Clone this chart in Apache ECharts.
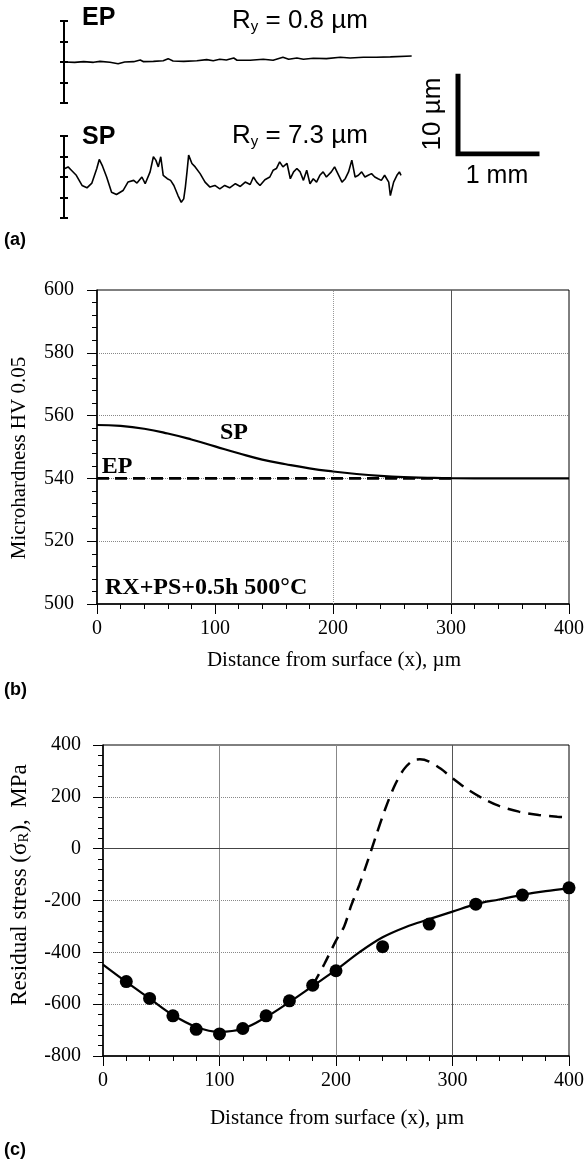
<!DOCTYPE html>
<html><head><meta charset="utf-8">
<script src="https://cdn.jsdelivr.net/npm/echarts@6/dist/echarts.min.js"></script>
<style>html,body{margin:0;padding:0;background:#fff}#c{width:587px;height:1163px}</style>
</head><body><div id="c"></div>
<script>
// ---------- Panel (a): surface profiles (x in mm, y in µm) ----------
const epX = [0.01,0.13,0.24,0.36,0.44,0.56,0.66,0.74,0.85,0.93,0.97,1.09,1.21,1.27,1.33,1.46,1.62,1.74,1.82,1.90,1.98,2.07,2.11,2.27,2.43,2.55,2.67,2.74,2.84,2.92,3.04,3.20,3.37,3.49,3.65,3.81,3.98,4.24];
const epY = [0,-0.04,0.04,-0.04,0.08,-0.04,-0.21,0,0.04,0.25,0.04,0.08,0.16,0.41,0.12,0.08,0.16,0.29,0.16,0.33,0.25,0.49,0.21,0.21,0.33,0.21,0.58,0.33,0.49,0.33,0.45,0.41,0.58,0.49,0.58,0.58,0.62,0.74];
const spX = [0.01,0.05,0.09,0.15,0.22,0.28,0.34,0.40,0.43,0.47,0.52,0.58,0.64,0.72,0.78,0.85,0.89,0.95,0.99,1.05,1.09,1.12,1.15,1.18,1.21,1.26,1.30,1.34,1.39,1.43,1.46,1.48,1.50,1.52,1.56,1.60,1.66,1.72,1.78,1.84,1.90,1.96,2.02,2.09,2.15,2.21,2.27,2.31,2.35,2.39,2.45,2.51,2.55,2.59,2.63,2.67,2.72,2.76,2.80,2.84,2.88,2.92,2.96,3.00,3.04,3.08,3.12,3.16,3.20,3.26,3.30,3.35,3.39,3.43,3.47,3.51,3.55,3.59,3.63,3.67,3.71,3.75,3.79,3.83,3.87,3.91,3.96,3.98,4.02,4.06,4.09,4.11];
const spY = [1.03,1.23,0.82,0.21,-1.03,-1.32,-0.74,1.03,2.14,1.32,0,-1.85,-2.14,-1.65,-0.62,-0.41,-0.74,0,-0.82,0.62,2.47,2.06,1.23,2.47,0.21,-0.21,-0.41,-1.03,-2.26,-3.09,-2.67,-1.23,0.62,2.67,1.65,1.23,0.41,-0.62,-1.23,-1.03,-1.44,-1.03,-1.32,-0.82,-1.15,-0.62,-0.91,0,-0.62,-1.03,-0.33,0,0.82,1.03,1.85,1.23,1.65,-0.21,0.62,1.03,0.62,-0.41,0.82,-0.82,-0.21,-0.62,0.21,0.62,0,0.62,1.23,0.21,-0.62,-0.21,0.62,2.06,0,0.21,0.62,0,0.21,0.41,0,-0.21,-0.41,0.21,-0.62,-2.26,-0.62,0.21,0.62,0.21];
const scaleBarX = [0, 0, 1];    // 1 mm
const scaleBarY = [10, 0, 0];   // 10 µm

// ---------- Panel (b): microhardness ----------
const hardX  = [0,20,40,60,80,100,120,140,160,180,200,220,240,260,280,300,320,340,360,380,400];
const hardSP = [557.0,556.7,555.8,554.3,552.4,550.2,548.0,546.0,544.5,543.2,542.2,541.4,540.8,540.4,540.2,540.05,540,540,540,540,540];
const hardEPX = [0, 300];
const hardEPY = [540, 540];

// ---------- Panel (c): residual stress ----------
const stressPtX = [20,40,60,80,100,120,140,160,180,200,240,280,320,360,400];
const stressPtY = [-513,-578,-645,-697,-715,-694,-645,-587,-527,-471,-378,-291,-214,-179,-151];
const fitX = [0,20,40,60,80,100,120,140,160,180,200,220,240,260,280,300,320,340,360,380,400];
const fitY = [-447,-514,-578,-642,-688,-707,-695,-650,-592,-530,-468,-400,-342,-302,-272,-243,-214,-196,-178,-164,-153];
const dashX = [180,190,200,207,213,220,227,234,242,250,258,266,272,280,290,300,312,326,340,357,374,390,400];
const dashY = [-528,-445,-355,-300,-220,-140,-50,45,150,240,305,340,345,336,308,272,232,194,165,143,130,123,121];

const zip = (a, b) => a.map((v, i) => [v, b[i]]);
const SERIF = '"Liberation Serif","Times New Roman",serif';
const SANS = '"Liberation Sans",Arial,sans-serif';

const chart = echarts.init(document.getElementById('c'), null, {renderer: 'canvas'});

function barAxis(grid, inside, showLine) {
  return {
    gridIndex: grid, type: 'value', min: -5, max: 5, interval: 2.5, position: 'left',
    axisLine: {show: showLine, lineStyle: {color: '#000', width: 2}},
    axisTick: {show: true, inside: inside, length: 4, lineStyle: {color: '#000', width: 2}},
    axisLabel: {show: false}, splitLine: {show: false}
  };
}
const tickLabel = {color: '#000', fontFamily: SERIF, fontSize: 20};

const option = {
  animation: false,
  backgroundColor: '#fff',
  grid: [
    {left: 64, top: 21, width: 348.5, height: 82},
    {left: 64, top: 136, width: 348.5, height: 82},
    {left: 458, top: 76, width: 79, height: 78},
    {left: 97, top: 290, width: 473, height: 314, show: true, borderColor: '#000', borderWidth: 1},
    {left: 103, top: 745, width: 467, height: 311, show: true, borderColor: '#000', borderWidth: 1}
  ],
  xAxis: [
    {gridIndex: 0, type: 'value', min: 0, max: 4.25, show: false},
    {gridIndex: 1, type: 'value', min: 0, max: 4.25, show: false},
    {gridIndex: 2, type: 'value', min: 0, max: 1, show: false},
    {gridIndex: 3, type: 'value', min: 0, max: 400, interval: 100,
      axisLine: {lineStyle: {color: '#000', width: 1.5}},
      axisTick: {length: 10, lineStyle: {color: '#000'}},
      minorTick: {show: true, splitNumber: 5, length: 5, lineStyle: {color: '#000'}},
      axisLabel: Object.assign({margin: 15}, tickLabel),
      splitLine: {show: false}},
    {gridIndex: 4, type: 'value', min: 0, max: 400, interval: 100,
      axisLine: {onZero: false, lineStyle: {color: '#000', width: 1.5}},
      axisTick: {length: 10, lineStyle: {color: '#000'}},
      minorTick: {show: true, splitNumber: 5, length: 5, lineStyle: {color: '#000'}},
      axisLabel: Object.assign({margin: 15}, tickLabel),
      splitLine: {show: false}}
  ],
  yAxis: [
    barAxis(0, false, true), barAxis(0, true, false),
    barAxis(1, false, true), barAxis(1, true, false),
    {gridIndex: 2, type: 'value', min: 0, max: 10, show: false},
    {gridIndex: 3, type: 'value', min: 500, max: 600, interval: 20,
      axisLine: {show: true, lineStyle: {color: '#000', width: 1.5}},
      axisTick: {show: true, length: 10, lineStyle: {color: '#000'}},
      minorTick: {show: true, splitNumber: 5, length: 5, lineStyle: {color: '#000'}},
      axisLabel: Object.assign({margin: 23}, tickLabel),
      splitLine: {show: true, showMinLine: false, showMaxLine: false, lineStyle: {color: '#888', type: 'dotted', width: 1}}},
    {gridIndex: 4, type: 'value', min: -800, max: 400, interval: 200,
      axisLine: {show: true, lineStyle: {color: '#000', width: 1.5}},
      axisTick: {show: true, length: 10, lineStyle: {color: '#000'}},
      minorTick: {show: true, splitNumber: 5, length: 5, lineStyle: {color: '#000'}},
      axisLabel: Object.assign({margin: 22}, tickLabel),
      splitLine: {show: true, showMinLine: false, showMaxLine: false, lineStyle: {color: '#888', type: 'dotted', width: 1}}}
  ],
  series: [
    {type: 'line', xAxisIndex: 0, yAxisIndex: 0, data: zip(epX, epY), symbol: 'none',
      lineStyle: {color: '#000', width: 1.6}},
    {type: 'line', xAxisIndex: 1, yAxisIndex: 2, data: zip(spX, spY), symbol: 'none',
      lineStyle: {color: '#000', width: 1.6}},
    {type: 'line', xAxisIndex: 2, yAxisIndex: 4, data: zip(scaleBarX, scaleBarY), symbol: 'none',
      lineStyle: {color: '#000', width: 5, join: 'miter', cap: 'square'}},
    // panel (b)
    {type: 'line', xAxisIndex: 3, yAxisIndex: 5, data: zip(hardX, hardSP), symbol: 'none', smooth: true, z: 3,
      lineStyle: {color: '#000', width: 2.2},
      markLine: {silent: true, symbol: ['none', 'none'], z: 1, label: {show: false},
        data: [
          {xAxis: 200, lineStyle: {color: '#999', type: 'dotted', width: 1}},
          {xAxis: 300, lineStyle: {color: '#555', type: 'solid', width: 1}}
        ]}},
    {type: 'line', xAxisIndex: 3, yAxisIndex: 5, data: zip(hardEPX, hardEPY), symbol: 'none', z: 3,
      lineStyle: {color: '#000', width: 2.8, type: [12, 6]}},
    // panel (c)
    {type: 'line', xAxisIndex: 4, yAxisIndex: 6, data: zip(fitX, fitY), symbol: 'none', smooth: 0.35, z: 3,
      lineStyle: {color: '#000', width: 2.2},
      markLine: {silent: true, symbol: ['none', 'none'], z: 1, label: {show: false},
        data: [
          {xAxis: 100, lineStyle: {color: '#888', type: 'solid', width: 1}},
          {xAxis: 200, lineStyle: {color: '#888', type: 'solid', width: 1}},
          {xAxis: 300, lineStyle: {color: '#555', type: 'solid', width: 1}},
          {yAxis: 0, lineStyle: {color: '#444', type: 'solid', width: 1.2}}
        ]}},
    {type: 'line', xAxisIndex: 4, yAxisIndex: 6, data: zip(dashX, dashY), symbol: 'none', smooth: 0.3, z: 3,
      lineStyle: {color: '#000', width: 2.5, type: [13, 8]}},
    {type: 'scatter', xAxisIndex: 4, yAxisIndex: 6, data: zip(stressPtX, stressPtY), symbol: 'circle', symbolSize: 13, z: 4,
      itemStyle: {color: '#000', opacity: 1}}
  ],
  graphic: [
    {type: 'text', x: 82, y: 18, style: {text: 'EP', font: 'bold 25px ' + SANS, fill: '#000', align: 'left', verticalAlign: 'middle'}},
    {type: 'text', x: 232, y: 21, style: {text: 'R{s|y} = 0.8 µm', font: '26px ' + SANS, fill: '#000', align: 'left', verticalAlign: 'middle',
      rich: {s: {fontSize: 15, fontFamily: SANS, verticalAlign: 'bottom', lineHeight: 15}}}},
    {type: 'text', x: 82, y: 137, style: {text: 'SP', font: 'bold 25px ' + SANS, fill: '#000', align: 'left', verticalAlign: 'middle'}},
    {type: 'text', x: 232, y: 136, style: {text: 'R{s|y} = 7.3 µm', font: '26px ' + SANS, fill: '#000', align: 'left', verticalAlign: 'middle',
      rich: {s: {fontSize: 15, fontFamily: SANS, verticalAlign: 'bottom', lineHeight: 15}}}},
    {type: 'text', x: 433, y: 114, rotation: Math.PI / 2, style: {text: '10 µm', font: '26px ' + SANS, fill: '#000', align: 'center', verticalAlign: 'middle'}},
    {type: 'text', x: 497, y: 176, style: {text: '1 mm', font: '25px ' + SANS, fill: '#000', align: 'center', verticalAlign: 'middle'}},
    {type: 'text', x: 4, y: 240, style: {text: '(a)', font: 'bold 18px ' + SANS, fill: '#000', align: 'left', verticalAlign: 'middle'}},
    // panel (b)
    {type: 'text', x: 234, y: 433, style: {text: 'SP', font: 'bold 24px ' + SERIF, fill: '#000', align: 'center', verticalAlign: 'middle'}},
    {type: 'text', x: 117, y: 467, style: {text: 'EP', font: 'bold 24px ' + SERIF, fill: '#000', align: 'center', verticalAlign: 'middle'}},
    {type: 'text', x: 105, y: 588, style: {text: 'RX+PS+0.5h 500°C', font: 'bold 24px ' + SERIF, fill: '#000', align: 'left', verticalAlign: 'middle'}},
    {type: 'text', x: 19, y: 458, rotation: Math.PI / 2, style: {text: 'Microhardness HV 0.05', font: '21px ' + SERIF, fill: '#000', align: 'center', verticalAlign: 'middle'}},
    {type: 'text', x: 334, y: 660, style: {text: 'Distance from surface (x), µm', font: '21px ' + SERIF, fill: '#000', align: 'center', verticalAlign: 'middle'}},
    {type: 'text', x: 4, y: 690, style: {text: '(b)', font: 'bold 18px ' + SANS, fill: '#000', align: 'left', verticalAlign: 'middle'}},
    // panel (c)
    {type: 'text', x: 20, y: 885, rotation: Math.PI / 2, style: {text: 'Residual stress (σ{s|R}),  MPa', font: '23px ' + SERIF, fill: '#000', align: 'center', verticalAlign: 'middle',
      rich: {s: {fontSize: 15, fontFamily: SERIF, verticalAlign: 'bottom', lineHeight: 15}}}},
    {type: 'text', x: 337, y: 1118, style: {text: 'Distance from surface (x), µm', font: '21px ' + SERIF, fill: '#000', align: 'center', verticalAlign: 'middle'}},
    {type: 'text', x: 4, y: 1150, style: {text: '(c)', font: 'bold 18px ' + SANS, fill: '#000', align: 'left', verticalAlign: 'middle'}}
  ]
};
chart.setOption(option);
</script>
</body></html>
